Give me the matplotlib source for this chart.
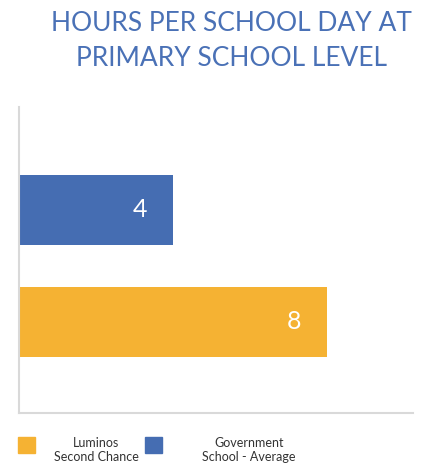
import matplotlib.pyplot as plt
from matplotlib.patches import Rectangle

plt.rcParams["font.family"] = ["Lato", "DejaVu Sans"]

# hours per school day, bottom bar first
programmes = ["Luminos\nSecond Chance", "Government\nSchool - Average"]
hours = [8, 4]
colors = ["#F5B233", "#456DB2"]

title = "HOURS PER SCHOOL DAY AT\nPRIMARY SCHOOL LEVEL"

fig = plt.figure(figsize=(4.22, 4.66), dpi=100)
ax = fig.add_axes([0.044, 0.1137, 0.935, 0.657])

positions = list(range(len(hours)))
bars = ax.barh(positions, hours, height=0.625, color=colors)

for bar, value in zip(bars, hours):
    ax.annotate(
        str(value),
        xy=(bar.get_width(), bar.get_y() + bar.get_height() / 2),
        xytext=(-33, 0),
        textcoords="offset pixels",
        ha="center",
        va="center",
        color="white",
        fontsize=18,
    )

ax.set_xlim(0, 10.25)
ax.set_ylim(-0.8125, 1.92)
ax.set_xticks([])
ax.set_yticks([])
for side in ("top", "right"):
    ax.spines[side].set_visible(False)
for side in ("left", "bottom"):
    ax.spines[side].set_color("#d9d9d9")
    ax.spines[side].set_linewidth(1.5)

fig.text(0.548, 0.913, title, ha="center", va="center", fontsize=19,
         color="#4A71B6", linespacing=1.5)

# legend: colour swatch followed by a centred two-line label
swatch_x = [18 / 422, 145 / 422]
label_x = [96 / 422, 249 / 422]
for sx, lx, name, color in zip(swatch_x, label_x, programmes, colors):
    fig.patches.append(Rectangle((sx, 13 / 466), 17 / 422, 16 / 466,
                                 transform=fig.transFigure, color=color))
    fig.text(lx, 16 / 466, name, ha="center", va="center", fontsize=9,
             color="#333333", linespacing=1.25)

fig.savefig("out.png", dpi=100, facecolor="white")
